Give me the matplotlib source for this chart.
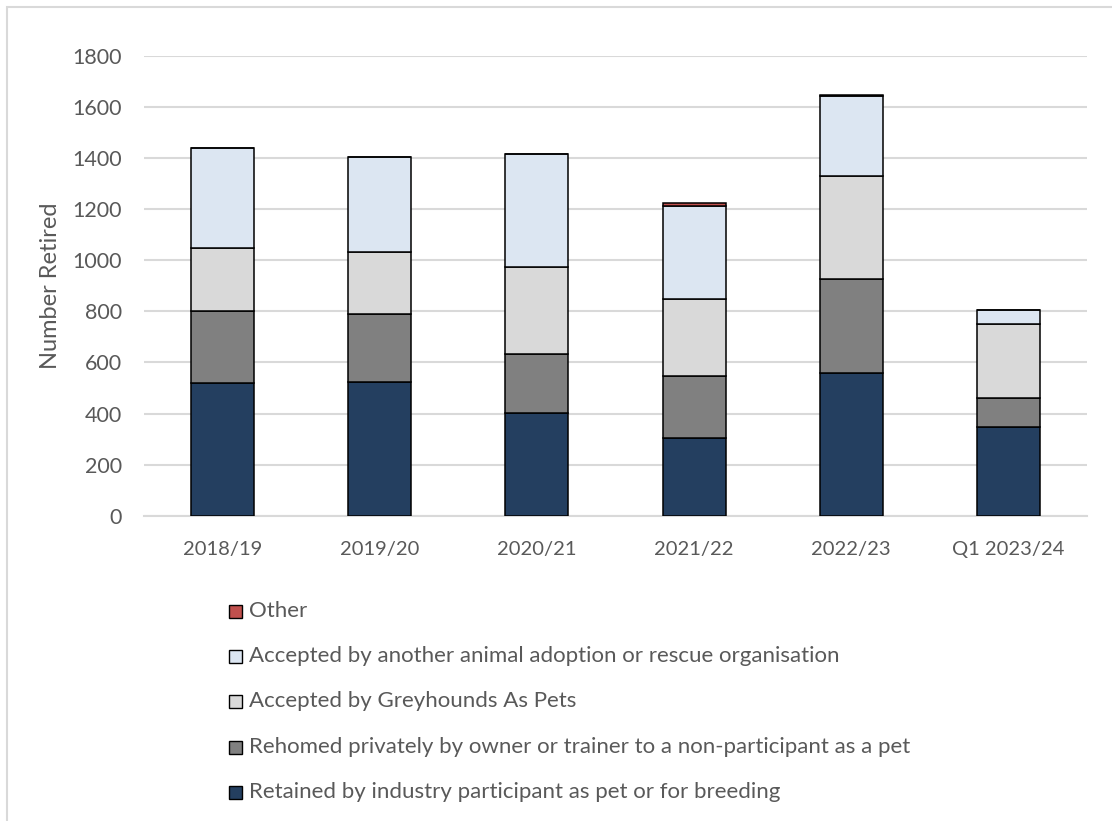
import matplotlib
matplotlib.use("Agg")
import matplotlib.pyplot as plt
from matplotlib.patches import Rectangle
import numpy as np

plt.rcParams['font.family'] = ['Lato', 'DejaVu Sans']

categories = ["2018/19", "2019/20", "2020/21", "2021/22", "2022/23", "Q1 2023/24"]
retained = [518, 523, 403, 303, 557, 348]
rehomed_privately = [285, 265, 229, 245, 370, 114]
greyhounds_as_pets = [247, 244, 341, 299, 404, 289]
other_org = [390, 373, 444, 365, 314, 54]
other = [0, 0, 0, 13, 4, 0]

series = [
    ("Retained by industry participant as pet or for breeding", retained, "#243F60"),
    ("Rehomed privately by owner or trainer to a non-participant as a pet", rehomed_privately, "#808080"),
    ("Accepted by Greyhounds As Pets", greyhounds_as_pets, "#D9D9D9"),
    ("Accepted by another animal adoption or rescue organisation", other_org, "#DCE6F2"),
    ("Other", other, "#C0504D"),
]

W, H = 1112, 821
fig = plt.figure(figsize=(W / 100, H / 100), dpi=100)
ax = fig.add_axes([144 / W, 1 - 515.7 / H, (1087 - 144) / W, (515.7 - 56) / H])

x = np.arange(len(categories))
bottom = np.zeros(len(categories))
for label, vals, color in series:
    vals = np.array(vals, dtype=float)
    ax.bar(x, vals, 0.4, bottom=bottom, color=color, edgecolor="black", linewidth=1.1, zorder=3, label=label)
    bottom += vals

ax.set_xlim(-0.5, len(categories) - 0.5)
ax.set_ylim(0, 1800)
ax.set_yticks(np.arange(0, 1801, 200))
ax.set_xticks(x)
ax.set_xticklabels(categories)
ax.yaxis.grid(True, color="#D9D9D9", linewidth=1.5, zorder=0)
ax.set_axisbelow(True)
for s in ["top", "right", "left"]:
    ax.spines[s].set_visible(False)
ax.spines["bottom"].set_color("#D9D9D9")
ax.spines["bottom"].set_linewidth(1.5)
ax.tick_params(axis="both", length=0, labelcolor="#595959")
ax.tick_params(axis="y", pad=16, labelsize=15.5)
ax.tick_params(axis="x", pad=18, labelsize=14.5)
ax.set_ylabel("Number Retired", fontsize=17, color="#595959")
ax.yaxis.set_label_coords(-0.088, 0.5)

# legend (manual, reversed order)
ys = [611, 656, 701, 747, 792]
for (label, vals, color), yy in zip(series[::-1], ys):
    fig.patches.append(Rectangle((229 / W, 1 - (yy + 6.5) / H), 13 / W, 13 / H,
                                 transform=fig.transFigure, facecolor=color,
                                 edgecolor="black", linewidth=1.0))
    fig.text(249 / W, 1 - yy / H, label, fontsize=16, color="#595959", va="center", ha="left")

# chart border
fig.patches.append(Rectangle((7 / W, -0.1), 1.2, 1.1 - 7 / H, transform=fig.transFigure,
                             fill=False, edgecolor="#D9D9D9", linewidth=1.5))

fig.savefig("out.png", dpi=100)
